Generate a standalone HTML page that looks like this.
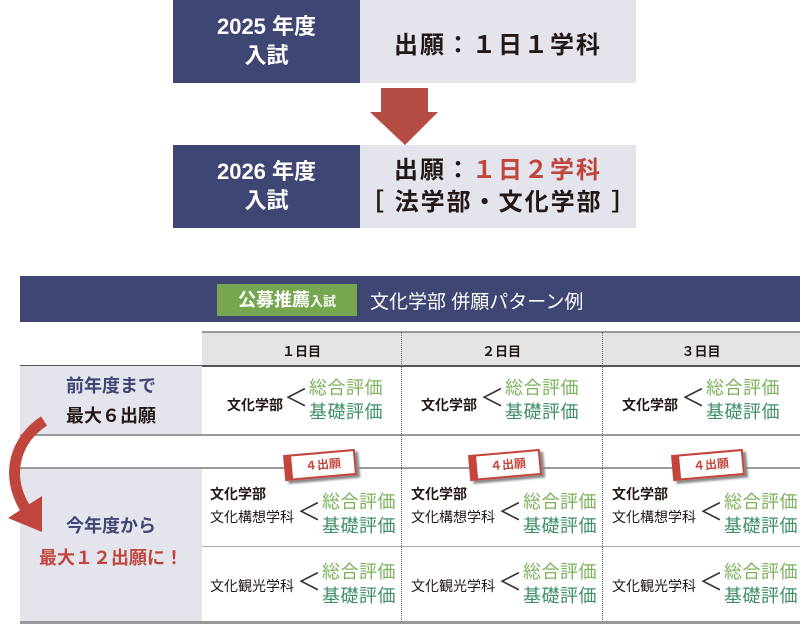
<!DOCTYPE html>
<html><head><meta charset="utf-8">
<style>
body{margin:0;width:800px;height:624px;position:relative;background:#fff;font-family:"Liberation Sans","Noto Sans CJK JP",sans-serif;overflow:hidden}
.a{position:absolute;white-space:nowrap}
.nv{background:#3f4674;color:#fff;font-weight:bold;font-size:22px;text-align:center;line-height:29px}
.gy{background:#e3e4ec}
.bk{color:#231815;font-weight:bold}
.g1{color:#7cb25c;font-size:18px;line-height:24px;letter-spacing:0.5px}
.g2{color:#3f8f66}
.lt{font-size:24px;color:#333;font-weight:normal;line-height:30px}
.tag{position:absolute;width:62px;height:22px;background:#fff;border:2px solid #c3453c;border-left:8px solid #c3453c;box-shadow:3px 3px 2px #888;transform:rotate(-5deg);color:#c3453c;font-weight:bold;font-size:12px;text-align:center;line-height:22px}
.dl{position:absolute;top:332px;height:290px;border-left:1.5px dotted #666}
</style></head><body>
<div class="a nv" style="left:173px;top:0;width:187px;height:83px;padding-top:12px;box-sizing:border-box">2025 年度<br>入試</div>
<div class="a gy" style="left:360px;top:0;width:276px;height:83px"></div>
<div class="a bk" style="left:360px;top:25px;width:276px;text-align:center;font-size:24px;letter-spacing:2px">出願：１日１学科</div>
<svg class="a" style="left:0;top:0" width="800" height="160">
<polygon points="381,88 428,88 428,112 438,112 405,145 370,112 381,112" fill="#b44c44"/>
</svg>
<div class="a nv" style="left:173px;top:145px;width:187px;height:83px;padding-top:12px;box-sizing:border-box">2026 年度<br>入試</div>
<div class="a gy" style="left:360px;top:145px;width:276px;height:83px"></div>
<div class="a bk" style="left:360px;top:155px;width:276px;text-align:center;font-size:24px;letter-spacing:2px;line-height:32px">出願：<span style="color:#c0453c">１日２学科</span><br>［ 法学部・文化学部 ］</div>
<div class="a" style="left:20px;top:276px;width:780px;height:46px;background:#3f4674"></div>
<div class="a" style="left:217px;top:284px;width:140px;height:32px;background:#76a650;color:#fff;font-weight:bold;font-size:18px;line-height:32px;text-align:center">公募推薦<span style="font-size:13px">入試</span></div>
<div class="a" style="left:370px;top:287px;color:#fff;font-size:19px">文化学部 併願パターン例</div>
<div class="a" style="left:202px;top:331px;width:598px;height:34px;background:#e4e4e4;border-top:2px solid #999;box-sizing:border-box"></div>
<div class="a bk" style="left:202px;top:341px;width:199px;text-align:center;font-size:13px">１日目</div>
<div class="a bk" style="left:401px;top:341px;width:201px;text-align:center;font-size:13px">２日目</div>
<div class="a bk" style="left:602px;top:341px;width:198px;text-align:center;font-size:13px">３日目</div>
<div class="a" style="left:20px;top:365px;width:780px;height:1.5px;background:#555"></div>
<div class="a gy" style="left:20px;top:366px;width:182px;height:68px"></div>
<div class="a" style="left:20px;top:434px;width:780px;height:2px;background:#999"></div>
<div class="a" style="left:20px;top:371px;width:182px;text-align:center;font-size:18px;line-height:30px;font-weight:bold;color:#3f4674">前年度まで<br><span style="color:#231815">最大６出願</span></div>
<div class="a" style="left:20px;top:467px;width:780px;height:2px;background:#999"></div>
<div class="a gy" style="left:20px;top:469px;width:182px;height:152px"></div>
<div class="a" style="left:202px;top:546px;width:598px;height:1px;background:#aaa"></div>
<div class="a" style="left:20px;top:621px;width:780px;height:3px;background:#999"></div>
<div class="a" style="left:20px;top:510px;width:182px;text-align:center;font-size:18px;line-height:32px;font-weight:bold;color:#3f4674">今年度から<br><span style="color:#c0453c">最大１２出願に！</span></div>
<div class="dl" style="left:401px"></div>
<div class="dl" style="left:602px"></div>

<div class="a" style="left:202px;top:0">
 <div class="a bk" style="left:25px;top:395px;font-size:14px">文化学部</div>
 <div class="a lt" style="left:82px;top:384px">＜</div>
 <div class="a g1" style="left:107px;top:376px">総合評価<br><span class="g2">基礎評価</span></div>
 <div class="tag" style="left:82px;top:452px">４出願</div>
 <div class="a bk" style="left:8px;top:484px;font-size:14px">文化学部</div>
 <div class="a" style="left:8px;top:507px;font-size:14px;color:#231815">文化構想学科</div>
 <div class="a lt" style="left:95px;top:498px">＜</div>
 <div class="a g1" style="left:120px;top:490px">総合評価<br><span class="g2">基礎評価</span></div>
 <div class="a" style="left:8px;top:576px;font-size:14px;color:#231815">文化観光学科</div>
 <div class="a lt" style="left:95px;top:568px">＜</div>
 <div class="a g1" style="left:120px;top:560px">総合評価<br><span class="g2">基礎評価</span></div>
</div>
<div class="a" style="left:401px;top:0">
 <div class="a bk" style="left:20px;top:395px;font-size:14px">文化学部</div>
 <div class="a lt" style="left:79px;top:384px">＜</div>
 <div class="a g1" style="left:104px;top:376px">総合評価<br><span class="g2">基礎評価</span></div>
 <div class="tag" style="left:68px;top:452px">４出願</div>
 <div class="a bk" style="left:10px;top:484px;font-size:14px">文化学部</div>
 <div class="a" style="left:10px;top:507px;font-size:14px;color:#231815">文化構想学科</div>
 <div class="a lt" style="left:97px;top:498px">＜</div>
 <div class="a g1" style="left:122px;top:490px">総合評価<br><span class="g2">基礎評価</span></div>
 <div class="a" style="left:10px;top:576px;font-size:14px;color:#231815">文化観光学科</div>
 <div class="a lt" style="left:97px;top:568px">＜</div>
 <div class="a g1" style="left:122px;top:560px">総合評価<br><span class="g2">基礎評価</span></div>
</div>
<div class="a" style="left:602px;top:0">
 <div class="a bk" style="left:20px;top:395px;font-size:14px">文化学部</div>
 <div class="a lt" style="left:79px;top:384px">＜</div>
 <div class="a g1" style="left:104px;top:376px">総合評価<br><span class="g2">基礎評価</span></div>
 <div class="tag" style="left:70px;top:452px">４出願</div>
 <div class="a bk" style="left:10px;top:484px;font-size:14px">文化学部</div>
 <div class="a" style="left:10px;top:507px;font-size:14px;color:#231815">文化構想学科</div>
 <div class="a lt" style="left:97px;top:498px">＜</div>
 <div class="a g1" style="left:122px;top:490px">総合評価<br><span class="g2">基礎評価</span></div>
 <div class="a" style="left:10px;top:576px;font-size:14px;color:#231815">文化観光学科</div>
 <div class="a lt" style="left:97px;top:568px">＜</div>
 <div class="a g1" style="left:122px;top:560px">総合評価<br><span class="g2">基礎評価</span></div>
</div>
<svg class="a" style="left:0;top:400px" width="80" height="150">
<path d="M44,21 C15,40 5,75 25,108" stroke="#c0453c" stroke-width="11" fill="none"/>
<polygon points="8,118 42,96 42,132" fill="#c0453c"/>
</svg>
</body></html>
